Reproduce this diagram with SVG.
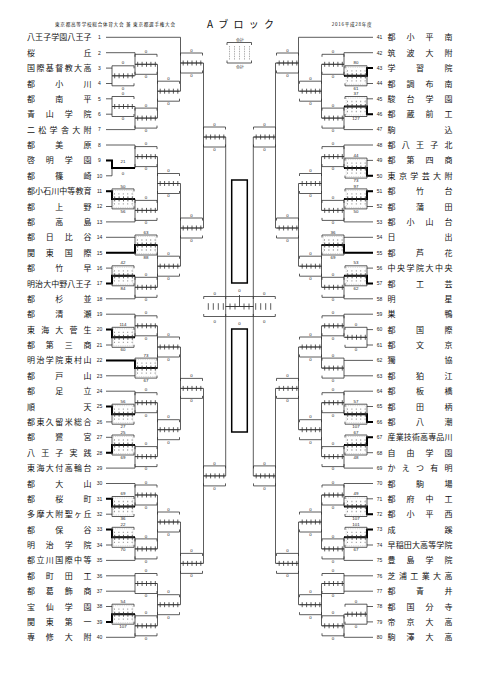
<svg xmlns="http://www.w3.org/2000/svg" width="481" height="680" viewBox="0 0 481 680">
<style>
.ln{fill:none;stroke:#333;stroke-width:.8}
.tk{fill:none;stroke:#000;stroke-width:2}
.nm{font-family:"Noto Sans CJK JP","Noto Sans CJK SC",sans-serif;font-size:8px;fill:#111}
.no{font-family:"Liberation Sans",Arial,sans-serif;font-size:5px;fill:#222;text-anchor:middle}
.sc{font-family:"Liberation Sans",Arial,sans-serif;font-size:4.4px;fill:#222;text-anchor:middle}
.hd{font-family:"Noto Sans CJK JP","Noto Sans CJK SC",sans-serif;fill:#111}
.big{fill:none;stroke:#000;stroke-width:1.5}
</style>
<defs>
<g id="bx">
<path class="ln" d="M0 -7.5V-10H22V-7.5M0 7.5V10H22V7.5M0 0H22"/>
<path class="ln" d="M2.7 -2.5V2.5M7.1 -2.5V2.5M11.5 -2.5V2.5M15.9 -2.5V2.5M20.3 -2.5V2.5"/>
</g>
<g id="pb">
<rect x="1.2" y="-8.5" width="19.6" height="17" fill="none" stroke="#9a9a9a" stroke-width=".4" stroke-dasharray="1 .8"/>
<path d="M2 -5H21M2 5H21" fill="none" stroke="#9a9a9a" stroke-width="1.3" stroke-dasharray="1 3.4"/>
<use href="#bx"/>
</g>
</defs>
<rect width="481" height="680" fill="#fff"/>

<g id="header">
<text class="hd" x="55" y="26.3" font-size="4.6" textLength="120" lengthAdjust="spacing">東京都高等学校総合体育大会 兼 東京都選手権大会</text>
<text class="hd" x="207" y="28.3" font-size="10" textLength="67" lengthAdjust="spacing">Aブロック</text>
<text class="hd" x="331.7" y="26" font-size="4.6" textLength="40" lengthAdjust="spacing">2016平成28年度</text>
</g>

<g id="legend">
<text class="sc" x="239.5" y="40.5" style="font-size:3.5px">合計</text>
<path class="ln" d="M227 45V42.5H251.5V45M227 60.5V63H251.5V60.5"/>
<path d="M229.5 46V60M234.5 46V60M239.5 46V60M244.5 46V60M249.5 46V60" fill="none" stroke="#555" stroke-width=".6" stroke-dasharray=".8 .9"/>
<text class="sc" x="239.5" y="67.5" style="font-size:3.5px">合計</text>
</g>

<g id="connectors">
<path id="cl" class="ln" d="M106 37.3H180.5M106 52.7H135M106 68.1H112M106 83.5H112M106 98.8H112M106 114.2H112M106 129.6H135M106 145H135M106 160.4H112M106 175.8H112M106 191.2H112M106 206.5H112M106 221.9H135M106 237.3H135M106 252.7H135M106 268.1H112M106 283.5H112M106 298.8H135M106 314.2H135M106 329.6H112M106 345H112M106 360.4H135M106 375.8H135M106 391.2H135M106 406.5H112M106 421.9H112M106 437.3H112M106 452.7H112M106 468.1H135M106 483.5H135M106 498.8H112M106 514.2H112M106 529.6H112M106 545H112M106 560.4H135M106 575.8H135M106 591.2H135M106 606.5H112M106 621.9H112M106 637.3H135
M112 68.1V83.5M112 75.8H135M112 98.8V114.2M112 106.5H135M112 160.4V175.8M112 168.1H135M112 191.2V206.5M112 198.9H135M112 268.1V283.5M112 275.8H135M112 329.6V345M112 337.3H135M112 406.5V421.9M112 414.2H135M112 437.3V452.7M112 445H135M112 498.8V514.2M112 506.5H135M112 529.6V545M112 537.3H135M112 606.5V621.9M112 614.2H135
M135 52.7V75.8M135 64.3H157.5M135 106.5V129.6M135 118.1H157.5M135 145V168.1M135 156.6H157.5M135 198.9V221.9M135 210.4H157.5M135 237.3V252.7M135 245H157.5M135 275.8V298.8M135 287.3H157.5M135 314.2V337.3M135 325.8H157.5M135 360.4V375.8M135 368.1H157.5M135 391.2V414.2M135 402.7H157.5M135 445V468.1M135 456.6H157.5M135 483.5V506.5M135 495H157.5M135 537.3V560.4M135 548.9H157.5M135 575.8V591.2M135 583.5H157.5M135 614.2V637.3M135 625.8H157.5
M157.5 64.3V118.1M157.5 91.2H180.5M157.5 156.6V210.4M157.5 183.5H180.5M157.5 245V287.3M157.5 266.2H180.5M157.5 325.8V368.1M157.5 347H180.5M157.5 402.7V456.6M157.5 429.7H180.5M157.5 495V548.9M157.5 522H180.5M157.5 583.5V625.8M157.5 604.7H180.5
M180.5 37.3V91.2M180.5 63H203.5M180.5 183.5V266.2M180.5 228H203.5M180.5 347V429.7M180.5 388.4H203.5M180.5 522V604.7M180.5 563.4H203.5
M203.5 63V228M203.5 137H225.7M203.5 388.4V563.4M203.5 475.9H225.7
M225.7 137V475.9M225.7 306.5H239.5"/>
<use href="#cl" transform="matrix(-1 0 0 1 479 0)"/>
<path class="tk" d="M106 160.4H112V168.1H135M106 191.2H112V198.9H135M106 252.7H135V245H157.5M106 283.5H112V275.8H135M106 329.6H112V337.3H135M106 360.4H135V368.1H157.5M106 406.5H112V414.2H135M106 452.7H112V445H135M106 498.8H112V506.5H135M106 529.6H112V537.3H135M106 621.9H112V614.2H135"/>
<path class="tk" d="M373 68.1H367V75.8H344M373 114.2H367V106.5H344M373 175.8H367V168.1H344M373 191.2H367V198.9H344M373 252.7H344V245H321.5M373 283.5H367V275.8H344M373 421.9H367V414.2H344M373 437.3H367V445H344M373 514.2H367V506.5H344M373 529.6H367V537.3H344"/>
</g>

<g id="left-teams">
<g id="t1"><text class="nm" x="27" y="40.3" textLength="64.5" lengthAdjust="spacing">八王子学園八王子</text><text class="no" x="99.5" y="39.1">1</text></g>
<g id="t2"><text class="nm" x="27" y="55.7" textLength="64.5" lengthAdjust="spacing">桜丘</text><text class="no" x="99.5" y="54.5">2</text></g>
<g id="t3"><text class="nm" x="27" y="71.1" textLength="64.5" lengthAdjust="spacing">国際基督教大高</text><text class="no" x="99.5" y="69.9">3</text></g>
<g id="t4"><text class="nm" x="27" y="86.5" textLength="64.5" lengthAdjust="spacing">都小川</text><text class="no" x="99.5" y="85.3">4</text></g>
<g id="t5"><text class="nm" x="27" y="101.8" textLength="64.5" lengthAdjust="spacing">都南平</text><text class="no" x="99.5" y="100.6">5</text></g>
<g id="t6"><text class="nm" x="27" y="117.2" textLength="64.5" lengthAdjust="spacing">青山学院</text><text class="no" x="99.5" y="116">6</text></g>
<g id="t7"><text class="nm" x="27" y="132.6" textLength="64.5" lengthAdjust="spacing">二松学舎大附</text><text class="no" x="99.5" y="131.4">7</text></g>
<g id="t8"><text class="nm" x="27" y="148" textLength="64.5" lengthAdjust="spacing">都美原</text><text class="no" x="99.5" y="146.8">8</text></g>
<g id="t9"><text class="nm" x="27" y="163.4" textLength="64.5" lengthAdjust="spacing">啓明学園</text><text class="no" x="99.5" y="162.2">9</text></g>
<g id="t10"><text class="nm" x="27" y="178.8" textLength="64.5" lengthAdjust="spacing">都篠崎</text><text class="no" x="99.5" y="177.6">10</text></g>
<g id="t11"><text class="nm" x="27" y="194.2" textLength="64.5" lengthAdjust="spacing">都小石川中等教育</text><text class="no" x="99.5" y="193">11</text></g>
<g id="t12"><text class="nm" x="27" y="209.5" textLength="64.5" lengthAdjust="spacing">都上野</text><text class="no" x="99.5" y="208.3">12</text></g>
<g id="t13"><text class="nm" x="27" y="224.9" textLength="64.5" lengthAdjust="spacing">都高島</text><text class="no" x="99.5" y="223.7">13</text></g>
<g id="t14"><text class="nm" x="27" y="240.3" textLength="64.5" lengthAdjust="spacing">都日比谷</text><text class="no" x="99.5" y="239.1">14</text></g>
<g id="t15"><text class="nm" x="27" y="255.7" textLength="64.5" lengthAdjust="spacing">関東国際</text><text class="no" x="99.5" y="254.5">15</text></g>
<g id="t16"><text class="nm" x="27" y="271.1" textLength="64.5" lengthAdjust="spacing">都竹早</text><text class="no" x="99.5" y="269.9">16</text></g>
<g id="t17"><text class="nm" x="27" y="286.5" textLength="64.5" lengthAdjust="spacing">明治大中野八王子</text><text class="no" x="99.5" y="285.3">17</text></g>
<g id="t18"><text class="nm" x="27" y="301.8" textLength="64.5" lengthAdjust="spacing">都杉並</text><text class="no" x="99.5" y="300.6">18</text></g>
<g id="t19"><text class="nm" x="27" y="317.2" textLength="64.5" lengthAdjust="spacing">都清瀬</text><text class="no" x="99.5" y="316">19</text></g>
<g id="t20"><text class="nm" x="27" y="332.6" textLength="64.5" lengthAdjust="spacing">東海大菅生</text><text class="no" x="99.5" y="331.4">20</text></g>
<g id="t21"><text class="nm" x="27" y="348" textLength="64.5" lengthAdjust="spacing">都第三商</text><text class="no" x="99.5" y="346.8">21</text></g>
<g id="t22"><text class="nm" x="27" y="363.4" textLength="64.5" lengthAdjust="spacing">明治学院東村山</text><text class="no" x="99.5" y="362.2">22</text></g>
<g id="t23"><text class="nm" x="27" y="378.8" textLength="64.5" lengthAdjust="spacing">都戸山</text><text class="no" x="99.5" y="377.6">23</text></g>
<g id="t24"><text class="nm" x="27" y="394.2" textLength="64.5" lengthAdjust="spacing">都足立</text><text class="no" x="99.5" y="393">24</text></g>
<g id="t25"><text class="nm" x="27" y="409.5" textLength="64.5" lengthAdjust="spacing">順天</text><text class="no" x="99.5" y="408.3">25</text></g>
<g id="t26"><text class="nm" x="27" y="424.9" textLength="64.5" lengthAdjust="spacing">都東久留米総合</text><text class="no" x="99.5" y="423.7">26</text></g>
<g id="t27"><text class="nm" x="27" y="440.3" textLength="64.5" lengthAdjust="spacing">都鷺宮</text><text class="no" x="99.5" y="439.1">27</text></g>
<g id="t28"><text class="nm" x="27" y="455.7" textLength="64.5" lengthAdjust="spacing">八王子実践</text><text class="no" x="99.5" y="454.5">28</text></g>
<g id="t29"><text class="nm" x="27" y="471.1" textLength="64.5" lengthAdjust="spacing">東海大付高輪台</text><text class="no" x="99.5" y="469.9">29</text></g>
<g id="t30"><text class="nm" x="27" y="486.5" textLength="64.5" lengthAdjust="spacing">都大山</text><text class="no" x="99.5" y="485.3">30</text></g>
<g id="t31"><text class="nm" x="27" y="501.8" textLength="64.5" lengthAdjust="spacing">都桜町</text><text class="no" x="99.5" y="500.6">31</text></g>
<g id="t32"><text class="nm" x="27" y="517.2" textLength="64.5" lengthAdjust="spacing">多摩大附聖ヶ丘</text><text class="no" x="99.5" y="516">32</text></g>
<g id="t33"><text class="nm" x="27" y="532.6" textLength="64.5" lengthAdjust="spacing">都保谷</text><text class="no" x="99.5" y="531.4">33</text></g>
<g id="t34"><text class="nm" x="27" y="548" textLength="64.5" lengthAdjust="spacing">明治学院</text><text class="no" x="99.5" y="546.8">34</text></g>
<g id="t35"><text class="nm" x="27" y="563.4" textLength="64.5" lengthAdjust="spacing">都立川国際中等</text><text class="no" x="99.5" y="562.2">35</text></g>
<g id="t36"><text class="nm" x="27" y="578.8" textLength="64.5" lengthAdjust="spacing">都町田工</text><text class="no" x="99.5" y="577.6">36</text></g>
<g id="t37"><text class="nm" x="27" y="594.2" textLength="64.5" lengthAdjust="spacing">都葛飾商</text><text class="no" x="99.5" y="593">37</text></g>
<g id="t38"><text class="nm" x="27" y="609.5" textLength="64.5" lengthAdjust="spacing">宝仙学園</text><text class="no" x="99.5" y="608.3">38</text></g>
<g id="t39"><text class="nm" x="27" y="624.9" textLength="64.5" lengthAdjust="spacing">関東第一</text><text class="no" x="99.5" y="623.7">39</text></g>
<g id="t40"><text class="nm" x="27" y="640.3" textLength="64.5" lengthAdjust="spacing">専修大附</text><text class="no" x="99.5" y="639.1">40</text></g>
</g>

<g id="right-teams">
<g id="t41"><text class="nm" x="387.5" y="40.3" textLength="65" lengthAdjust="spacing">都小平南</text><text class="no" x="379.5" y="39.1">41</text></g>
<g id="t42"><text class="nm" x="387.5" y="55.7" textLength="65" lengthAdjust="spacing">筑波大附</text><text class="no" x="379.5" y="54.5">42</text></g>
<g id="t43"><text class="nm" x="387.5" y="71.1" textLength="65" lengthAdjust="spacing">学習院</text><text class="no" x="379.5" y="69.9">43</text></g>
<g id="t44"><text class="nm" x="387.5" y="86.5" textLength="65" lengthAdjust="spacing">都調布南</text><text class="no" x="379.5" y="85.3">44</text></g>
<g id="t45"><text class="nm" x="387.5" y="101.8" textLength="65" lengthAdjust="spacing">駿台学園</text><text class="no" x="379.5" y="100.6">45</text></g>
<g id="t46"><text class="nm" x="387.5" y="117.2" textLength="65" lengthAdjust="spacing">都蔵前工</text><text class="no" x="379.5" y="116">46</text></g>
<g id="t47"><text class="nm" x="387.5" y="132.6" textLength="65" lengthAdjust="spacing">駒込</text><text class="no" x="379.5" y="131.4">47</text></g>
<g id="t48"><text class="nm" x="387.5" y="148" textLength="65" lengthAdjust="spacing">都八王子北</text><text class="no" x="379.5" y="146.8">48</text></g>
<g id="t49"><text class="nm" x="387.5" y="163.4" textLength="65" lengthAdjust="spacing">都第四商</text><text class="no" x="379.5" y="162.2">49</text></g>
<g id="t50"><text class="nm" x="387.5" y="178.8" textLength="65" lengthAdjust="spacing">東京学芸大附</text><text class="no" x="379.5" y="177.6">50</text></g>
<g id="t51"><text class="nm" x="387.5" y="194.2" textLength="65" lengthAdjust="spacing">都竹台</text><text class="no" x="379.5" y="193">51</text></g>
<g id="t52"><text class="nm" x="387.5" y="209.5" textLength="65" lengthAdjust="spacing">都蒲田</text><text class="no" x="379.5" y="208.3">52</text></g>
<g id="t53"><text class="nm" x="387.5" y="224.9" textLength="65" lengthAdjust="spacing">都小山台</text><text class="no" x="379.5" y="223.7">53</text></g>
<g id="t54"><text class="nm" x="387.5" y="240.3" textLength="65" lengthAdjust="spacing">日出</text><text class="no" x="379.5" y="239.1">54</text></g>
<g id="t55"><text class="nm" x="387.5" y="255.7" textLength="65" lengthAdjust="spacing">都芦花</text><text class="no" x="379.5" y="254.5">55</text></g>
<g id="t56"><text class="nm" x="387.5" y="271.1" textLength="65" lengthAdjust="spacing">中央学院大中央</text><text class="no" x="379.5" y="269.9">56</text></g>
<g id="t57"><text class="nm" x="387.5" y="286.5" textLength="65" lengthAdjust="spacing">都工芸</text><text class="no" x="379.5" y="285.3">57</text></g>
<g id="t58"><text class="nm" x="387.5" y="301.8" textLength="65" lengthAdjust="spacing">明星</text><text class="no" x="379.5" y="300.6">58</text></g>
<g id="t59"><text class="nm" x="387.5" y="317.2" textLength="65" lengthAdjust="spacing">巣鴨</text><text class="no" x="379.5" y="316">59</text></g>
<g id="t60"><text class="nm" x="387.5" y="332.6" textLength="65" lengthAdjust="spacing">都国際</text><text class="no" x="379.5" y="331.4">60</text></g>
<g id="t61"><text class="nm" x="387.5" y="348" textLength="65" lengthAdjust="spacing">都文京</text><text class="no" x="379.5" y="346.8">61</text></g>
<g id="t62"><text class="nm" x="387.5" y="363.4" textLength="65" lengthAdjust="spacing">獨協</text><text class="no" x="379.5" y="362.2">62</text></g>
<g id="t63"><text class="nm" x="387.5" y="378.8" textLength="65" lengthAdjust="spacing">都狛江</text><text class="no" x="379.5" y="377.6">63</text></g>
<g id="t64"><text class="nm" x="387.5" y="394.2" textLength="65" lengthAdjust="spacing">都板橋</text><text class="no" x="379.5" y="393">64</text></g>
<g id="t65"><text class="nm" x="387.5" y="409.5" textLength="65" lengthAdjust="spacing">都田柄</text><text class="no" x="379.5" y="408.3">65</text></g>
<g id="t66"><text class="nm" x="387.5" y="424.9" textLength="65" lengthAdjust="spacing">都八潮</text><text class="no" x="379.5" y="423.7">66</text></g>
<g id="t67"><text class="nm" x="387.5" y="440.3" textLength="65" lengthAdjust="spacing">産業技術高専品川</text><text class="no" x="379.5" y="439.1">67</text></g>
<g id="t68"><text class="nm" x="387.5" y="455.7" textLength="65" lengthAdjust="spacing">自由学園</text><text class="no" x="379.5" y="454.5">68</text></g>
<g id="t69"><text class="nm" x="387.5" y="471.1" textLength="65" lengthAdjust="spacing">かえつ有明</text><text class="no" x="379.5" y="469.9">69</text></g>
<g id="t70"><text class="nm" x="387.5" y="486.5" textLength="65" lengthAdjust="spacing">都駒場</text><text class="no" x="379.5" y="485.3">70</text></g>
<g id="t71"><text class="nm" x="387.5" y="501.8" textLength="65" lengthAdjust="spacing">都府中工</text><text class="no" x="379.5" y="500.6">71</text></g>
<g id="t72"><text class="nm" x="387.5" y="517.2" textLength="65" lengthAdjust="spacing">都小平西</text><text class="no" x="379.5" y="516">72</text></g>
<g id="t73"><text class="nm" x="387.5" y="532.6" textLength="65" lengthAdjust="spacing">成蹊</text><text class="no" x="379.5" y="531.4">73</text></g>
<g id="t74"><text class="nm" x="387.5" y="548" textLength="65" lengthAdjust="spacing">早稲田大高等学院</text><text class="no" x="379.5" y="546.8">74</text></g>
<g id="t75"><text class="nm" x="387.5" y="563.4" textLength="65" lengthAdjust="spacing">豊島学院</text><text class="no" x="379.5" y="562.2">75</text></g>
<g id="t76"><text class="nm" x="387.5" y="578.8" textLength="65" lengthAdjust="spacing">芝浦工業大高</text><text class="no" x="379.5" y="577.6">76</text></g>
<g id="t77"><text class="nm" x="387.5" y="594.2" textLength="65" lengthAdjust="spacing">都青井</text><text class="no" x="379.5" y="593">77</text></g>
<g id="t78"><text class="nm" x="387.5" y="609.5" textLength="65" lengthAdjust="spacing">都国分寺</text><text class="no" x="379.5" y="608.3">78</text></g>
<g id="t79"><text class="nm" x="387.5" y="624.9" textLength="65" lengthAdjust="spacing">帝京大高</text><text class="no" x="379.5" y="623.7">79</text></g>
<g id="t80"><text class="nm" x="387.5" y="640.3" textLength="65" lengthAdjust="spacing">駒澤大高</text><text class="no" x="379.5" y="639.1">80</text></g>
</g>

<g id="left-matches">
<g id="L1a" transform="translate(112 75.8)"><use href="#bx"/><text class="sc" x="11" y="-11.4">0</text><text class="sc" x="11" y="13.9">0</text></g>
<g id="L1b" transform="translate(112 106.5)"><use href="#bx"/><text class="sc" x="11" y="-11.4">0</text><text class="sc" x="11" y="13.9">0</text></g>
<g id="L1c" transform="translate(112 168.1)"><text class="sc" x="11" y="-5">21</text><text class="sc" x="11" y="7.4">0</text></g>
<g id="L1d" transform="translate(112 198.9)"><use href="#pb"/><text class="sc" x="11" y="-11.4">50</text><text class="sc" x="11" y="13.9">56</text></g>
<g id="L1e" transform="translate(112 275.8)"><use href="#pb"/><text class="sc" x="11" y="-11.4">42</text><text class="sc" x="11" y="13.9">84</text></g>
<g id="L1f" transform="translate(112 337.3)"><use href="#pb"/><text class="sc" x="11" y="-11.4">114</text><text class="sc" x="11" y="13.9">60</text></g>
<g id="L1g" transform="translate(112 414.2)"><use href="#pb"/><text class="sc" x="11" y="-11.4">56</text><text class="sc" x="11" y="13.9">27</text></g>
<g id="L1h" transform="translate(112 445)"><use href="#pb"/><text class="sc" x="11" y="-11.4">25</text><text class="sc" x="11" y="13.9">69</text></g>
<g id="L1i" transform="translate(112 506.5)"><use href="#pb"/><text class="sc" x="11" y="-11.4">69</text><text class="sc" x="11" y="13.9">36</text></g>
<g id="L1j" transform="translate(112 537.3)"><use href="#pb"/><text class="sc" x="11" y="-11.4">22</text><text class="sc" x="11" y="13.9">70</text></g>
<g id="L1k" transform="translate(112 614.2)"><use href="#pb"/><text class="sc" x="11" y="-11.4">54</text><text class="sc" x="11" y="13.9">107</text></g>

<g id="L2a" transform="translate(135 64.3)"><use href="#bx"/><text class="sc" x="11" y="-11.4">0</text><text class="sc" x="11" y="13.9">0</text></g>
<g id="L2b" transform="translate(135 118.1)"><use href="#bx"/><text class="sc" x="11" y="-11.4">0</text><text class="sc" x="11" y="13.9">0</text></g>
<g id="L2c" transform="translate(135 156.6)"><use href="#bx"/><text class="sc" x="11" y="-11.4">0</text><text class="sc" x="11" y="13.9">0</text></g>
<g id="L2d" transform="translate(135 210.4)"><use href="#bx"/><text class="sc" x="11" y="-11.4">0</text><text class="sc" x="11" y="13.9">0</text></g>
<g id="L2e" transform="translate(135 245)"><use href="#pb"/><text class="sc" x="11" y="-11.4">63</text><text class="sc" x="11" y="13.9">88</text></g>
<g id="L2f" transform="translate(135 287.3)"><use href="#bx"/><text class="sc" x="11" y="-11.4">0</text><text class="sc" x="11" y="13.9">0</text></g>
<g id="L2g" transform="translate(135 325.8)"><use href="#bx"/><text class="sc" x="11" y="-11.4">0</text><text class="sc" x="11" y="13.9">0</text></g>
<g id="L2h" transform="translate(135 368.1)"><use href="#pb"/><text class="sc" x="11" y="-11.4">73</text><text class="sc" x="11" y="13.9">67</text></g>
<g id="L2i" transform="translate(135 402.7)"><use href="#bx"/><text class="sc" x="11" y="-11.4">0</text><text class="sc" x="11" y="13.9">0</text></g>
<g id="L2j" transform="translate(135 456.6)"><use href="#bx"/><text class="sc" x="11" y="-11.4">0</text><text class="sc" x="11" y="13.9">0</text></g>
<g id="L2k" transform="translate(135 495)"><use href="#bx"/><text class="sc" x="11" y="-11.4">0</text><text class="sc" x="11" y="13.9">0</text></g>
<g id="L2l" transform="translate(135 548.9)"><use href="#bx"/><text class="sc" x="11" y="-11.4">0</text><text class="sc" x="11" y="13.9">0</text></g>
<g id="L2m" transform="translate(135 583.5)"><use href="#bx"/><text class="sc" x="11" y="-11.4">0</text><text class="sc" x="11" y="13.9">0</text></g>
<g id="L2n" transform="translate(135 625.8)"><use href="#bx"/><text class="sc" x="11" y="-11.4">0</text><text class="sc" x="11" y="13.9">0</text></g>

<g id="L3a" transform="translate(157.5 91.2)"><use href="#bx"/><text class="sc" x="11" y="-11.4">0</text><text class="sc" x="11" y="13.9">0</text></g>
<g id="L3b" transform="translate(157.5 183.5)"><use href="#bx"/><text class="sc" x="11" y="-11.4">0</text><text class="sc" x="11" y="13.9">0</text></g>
<g id="L3c" transform="translate(157.5 266.2)"><use href="#bx"/><text class="sc" x="11" y="-11.4">0</text><text class="sc" x="11" y="13.9">0</text></g>
<g id="L3d" transform="translate(157.5 347)"><use href="#bx"/><text class="sc" x="11" y="-11.4">0</text><text class="sc" x="11" y="13.9">0</text></g>
<g id="L3e" transform="translate(157.5 429.7)"><use href="#bx"/><text class="sc" x="11" y="-11.4">0</text><text class="sc" x="11" y="13.9">0</text></g>
<g id="L3f" transform="translate(157.5 522)"><use href="#bx"/><text class="sc" x="11" y="-11.4">0</text><text class="sc" x="11" y="13.9">0</text></g>
<g id="L3g" transform="translate(157.5 604.7)"><use href="#bx"/><text class="sc" x="11" y="-11.4">0</text><text class="sc" x="11" y="13.9">0</text></g>

<g id="L4a" transform="translate(180.5 63)"><use href="#bx"/><text class="sc" x="11" y="-11.4">0</text><text class="sc" x="11" y="13.9">0</text></g>
<g id="L4b" transform="translate(180.5 228)"><use href="#bx"/><text class="sc" x="11" y="-11.4">0</text><text class="sc" x="11" y="13.9">0</text></g>
<g id="L4c" transform="translate(180.5 388.4)"><use href="#bx"/><text class="sc" x="11" y="-11.4">0</text><text class="sc" x="11" y="13.9">0</text></g>
<g id="L4d" transform="translate(180.5 563.4)"><use href="#bx"/><text class="sc" x="11" y="-11.4">0</text><text class="sc" x="11" y="13.9">0</text></g>

<g id="L5a" transform="translate(203.5 137)"><use href="#bx"/><text class="sc" x="11" y="-11.4">0</text><text class="sc" x="11" y="13.9">0</text></g>
<g id="L5b" transform="translate(203.5 475.9)"><use href="#bx"/><text class="sc" x="11" y="-11.4">0</text><text class="sc" x="11" y="13.9">0</text></g>
</g>

<g id="right-matches">
<g id="R1a" transform="translate(345 75.8)"><use href="#pb"/><text class="sc" x="11" y="-11.4">80</text><text class="sc" x="11" y="13.9">61</text></g>
<g id="R1b" transform="translate(345 106.5)"><use href="#pb"/><text class="sc" x="11" y="-11.4">37</text><text class="sc" x="11" y="13.9">127</text></g>
<g id="R1c" transform="translate(345 168.1)"><use href="#pb"/><text class="sc" x="11" y="-11.4">44</text><text class="sc" x="11" y="13.9">73</text></g>
<g id="R1d" transform="translate(345 198.9)"><use href="#pb"/><text class="sc" x="11" y="-11.4">97</text><text class="sc" x="11" y="13.9">50</text></g>
<g id="R1e" transform="translate(345 275.8)"><use href="#pb"/><text class="sc" x="11" y="-11.4">53</text><text class="sc" x="11" y="13.9">62</text></g>
<g id="R1f" transform="translate(345 337.3)"><use href="#bx"/><text class="sc" x="11" y="-11.4">0</text><text class="sc" x="11" y="13.9">0</text></g>
<g id="R1g" transform="translate(345 414.2)"><use href="#pb"/><text class="sc" x="11" y="-11.4">57</text><text class="sc" x="11" y="13.9">107</text></g>
<g id="R1h" transform="translate(345 445)"><use href="#pb"/><text class="sc" x="11" y="-11.4">67</text><text class="sc" x="11" y="13.9">48</text></g>
<g id="R1i" transform="translate(345 506.5)"><use href="#pb"/><text class="sc" x="11" y="-11.4">49</text><text class="sc" x="11" y="13.9">107</text></g>
<g id="R1j" transform="translate(345 537.3)"><use href="#pb"/><text class="sc" x="11" y="-11.4">101</text><text class="sc" x="11" y="13.9">67</text></g>
<g id="R1k" transform="translate(345 614.2)"><use href="#bx"/><text class="sc" x="11" y="-11.4">0</text><text class="sc" x="11" y="13.9">0</text></g>

<g id="R2a" transform="translate(322 64.3)"><use href="#bx"/><text class="sc" x="11" y="-11.4">0</text><text class="sc" x="11" y="13.9">0</text></g>
<g id="R2b" transform="translate(322 118.1)"><use href="#bx"/><text class="sc" x="11" y="-11.4">0</text><text class="sc" x="11" y="13.9">0</text></g>
<g id="R2c" transform="translate(322 156.6)"><use href="#bx"/><text class="sc" x="11" y="-11.4">0</text><text class="sc" x="11" y="13.9">0</text></g>
<g id="R2d" transform="translate(322 210.4)"><use href="#bx"/><text class="sc" x="11" y="-11.4">0</text><text class="sc" x="11" y="13.9">0</text></g>
<g id="R2e" transform="translate(322 245)"><use href="#pb"/><text class="sc" x="11" y="-11.4">36</text><text class="sc" x="11" y="13.9">69</text></g>
<g id="R2f" transform="translate(322 287.3)"><use href="#bx"/><text class="sc" x="11" y="-11.4">0</text><text class="sc" x="11" y="13.9">0</text></g>
<g id="R2g" transform="translate(322 325.8)"><use href="#bx"/><text class="sc" x="11" y="-11.4">0</text><text class="sc" x="11" y="13.9">0</text></g>
<g id="R2h" transform="translate(322 368.1)"><use href="#bx"/><text class="sc" x="11" y="-11.4">0</text><text class="sc" x="11" y="13.9">0</text></g>
<g id="R2i" transform="translate(322 402.7)"><use href="#bx"/><text class="sc" x="11" y="-11.4">0</text><text class="sc" x="11" y="13.9">0</text></g>
<g id="R2j" transform="translate(322 456.6)"><use href="#bx"/><text class="sc" x="11" y="-11.4">0</text><text class="sc" x="11" y="13.9">0</text></g>
<g id="R2k" transform="translate(322 495)"><use href="#bx"/><text class="sc" x="11" y="-11.4">0</text><text class="sc" x="11" y="13.9">0</text></g>
<g id="R2l" transform="translate(322 548.9)"><use href="#bx"/><text class="sc" x="11" y="-11.4">0</text><text class="sc" x="11" y="13.9">0</text></g>
<g id="R2m" transform="translate(322 583.5)"><use href="#bx"/><text class="sc" x="11" y="-11.4">0</text><text class="sc" x="11" y="13.9">0</text></g>
<g id="R2n" transform="translate(322 625.8)"><use href="#bx"/><text class="sc" x="11" y="-11.4">0</text><text class="sc" x="11" y="13.9">0</text></g>

<g id="R3a" transform="translate(299.5 91.2)"><use href="#bx"/><text class="sc" x="11" y="-11.4">0</text><text class="sc" x="11" y="13.9">0</text></g>
<g id="R3b" transform="translate(299.5 183.5)"><use href="#bx"/><text class="sc" x="11" y="-11.4">0</text><text class="sc" x="11" y="13.9">0</text></g>
<g id="R3c" transform="translate(299.5 266.2)"><use href="#bx"/><text class="sc" x="11" y="-11.4">0</text><text class="sc" x="11" y="13.9">0</text></g>
<g id="R3d" transform="translate(299.5 347)"><use href="#bx"/><text class="sc" x="11" y="-11.4">0</text><text class="sc" x="11" y="13.9">0</text></g>
<g id="R3e" transform="translate(299.5 429.7)"><use href="#bx"/><text class="sc" x="11" y="-11.4">0</text><text class="sc" x="11" y="13.9">0</text></g>
<g id="R3f" transform="translate(299.5 522)"><use href="#bx"/><text class="sc" x="11" y="-11.4">0</text><text class="sc" x="11" y="13.9">0</text></g>
<g id="R3g" transform="translate(299.5 604.7)"><use href="#bx"/><text class="sc" x="11" y="-11.4">0</text><text class="sc" x="11" y="13.9">0</text></g>

<g id="R4a" transform="translate(276.5 63)"><use href="#bx"/><text class="sc" x="11" y="-11.4">0</text><text class="sc" x="11" y="13.9">0</text></g>
<g id="R4b" transform="translate(276.5 228)"><use href="#bx"/><text class="sc" x="11" y="-11.4">0</text><text class="sc" x="11" y="13.9">0</text></g>
<g id="R4c" transform="translate(276.5 388.4)"><use href="#bx"/><text class="sc" x="11" y="-11.4">0</text><text class="sc" x="11" y="13.9">0</text></g>
<g id="R4d" transform="translate(276.5 563.4)"><use href="#bx"/><text class="sc" x="11" y="-11.4">0</text><text class="sc" x="11" y="13.9">0</text></g>

<g id="R5a" transform="translate(253.5 137)"><use href="#bx"/><text class="sc" x="11" y="-11.4">0</text><text class="sc" x="11" y="13.9">0</text></g>
<g id="R5b" transform="translate(253.5 475.9)"><use href="#bx"/><text class="sc" x="11" y="-11.4">0</text><text class="sc" x="11" y="13.9">0</text></g>
</g>

<g id="final">
<path class="ln" d="M203.7 299V296.5H225.7V299M203.7 314V316.5H225.7V314M208.3 303.2V309.8M213.3 303.2V309.8M218.3 303.2V309.8M223.3 303.2V309.8"/>
<path class="ln" d="M225.7 296.5H253.3M225.7 316.5H253.3M225.7 306.5H253.3M230 303.5V309.5M235 303.5V309.5M244 303.5V309.5M249 303.5V309.5M239.5 295V306.5"/>
<path class="ln" d="M275.3 299V296.5H253.3V299M275.3 314V316.5H253.3V314M255.7 303.2V309.8M260.7 303.2V309.8M265.7 303.2V309.8M270.7 303.2V309.8"/>
<text class="sc" x="214.7" y="294.5">0</text><text class="sc" x="214.7" y="322.5">0</text>
<text class="sc" x="239.5" y="291.8">0</text><text class="sc" x="239.5" y="325">0</text>
<text class="sc" x="264.3" y="294.5">0</text><text class="sc" x="264.3" y="322.5">0</text>
</g>

<g id="champion-boxes">
<rect class="big" x="231.7" y="180" width="15.6" height="103"/>
<rect class="big" x="231.7" y="329" width="15.6" height="103"/>
</g>
</svg>
